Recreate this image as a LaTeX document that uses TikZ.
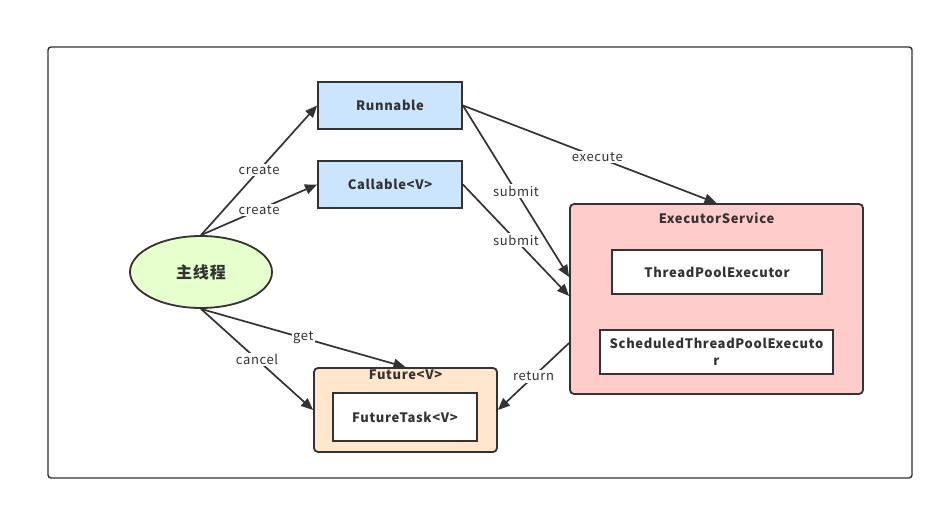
\documentclass[tikz,border=0pt]{standalone}
\usepackage{fontspec}
\setmainfont{Noto Sans CJK SC}[LetterSpace=5]
\usetikzlibrary{arrows.meta,shapes.geometric}
\definecolor{ln}{HTML}{333333}
\definecolor{blu}{HTML}{CCE5FF}
\definecolor{grn}{HTML}{E6FFCC}
\definecolor{rd}{HTML}{FFCCCC}
\definecolor{org}{HTML}{FFE6CC}
\tikzset{
  box/.style={draw=ln, line width=1.8pt, inner sep=0pt, align=center, font=\fontsize{13}{16}\selectfont\bfseries, text=ln},
  cont/.style={draw=ln, line width=1.8pt, rounded corners=4pt, inner sep=0pt},
  ttl/.style={font=\fontsize{13}{16}\selectfont\bfseries, text=ln, inner sep=0pt},
  conn/.style={draw=ln, line width=1.7pt, -{Triangle[length=12pt,width=10pt]}},
  lbl/.style={fill=white, font=\fontsize{13}{16}\selectfont, text=ln, inner sep=1.5pt, pos=0.5},
}
\begin{document}
\begin{tikzpicture}[x=1pt,y=-1pt]
\useasboundingbox (0,0) rectangle (944,510);
\node[draw=ln, line width=1.4pt, rounded corners=3pt, minimum width=864pt, minimum height=431pt, inner sep=0pt] (frame) at (480,262.5) {};
% containers
\node[cont, fill=rd, minimum width=293pt, minimum height=190pt] (exec) at (716.5,299) {};
\node[ttl] (exect) at (716.5,218) {ExecutorService};
\node[cont, fill=org, minimum width=183pt, minimum height=84pt] (fut) at (405.5,410) {};
\node[ttl] (futt) at (405.5,375) {Future<V>};
% boxes
\node[box, fill=blu, minimum width=144pt, minimum height=47pt] (run) at (390,105.5) {Runnable};
\node[box, fill=blu, minimum width=144pt, minimum height=47pt] (call) at (390,184.5) {Callable<V>};
\node[box, fill=white, minimum width=210pt, minimum height=44pt] (tpe) at (717,272) {ThreadPoolExecutor};
\node[box, fill=white, minimum width=233pt, minimum height=44pt, text width=228pt, font=\fontsize{13}{17}\selectfont\bfseries] (stpe) at (716.5,352) {ScheduledThreadPoolExecuto\\r};
\node[box, fill=white, minimum width=144pt, minimum height=48pt] (ft) at (405,417) {FutureTask<V>};
\node[ellipse, draw=ln, line width=1.8pt, fill=grn, minimum width=142pt, minimum height=72pt, inner sep=0pt, font=\fontsize{16}{19}\selectfont\bfseries, text=ln] (main) at (201,272) {主线程};
% connectors
\draw[conn] (main.north) -- node[lbl]{create} (run.west);
\draw[conn] (main.north) -- node[lbl]{create} (call.west);
\draw[conn] (run.east) -- node[lbl, pos=0.53]{execute} (exec.north);
\draw[conn] (run.east) -- node[lbl]{submit} ([yshift=22pt]exec.west);
\draw[conn] (call.east) -- node[lbl]{submit} ([yshift=3pt]exec.west);
\draw[conn] (main.south) -- node[lbl]{get} (fut.north);
\draw[conn] (main.south) -- node[lbl]{cancel} (fut.west);
\draw[conn] ([yshift=-44pt]exec.west) -- node[lbl]{return} (fut.east);
\end{tikzpicture}
\end{document}
